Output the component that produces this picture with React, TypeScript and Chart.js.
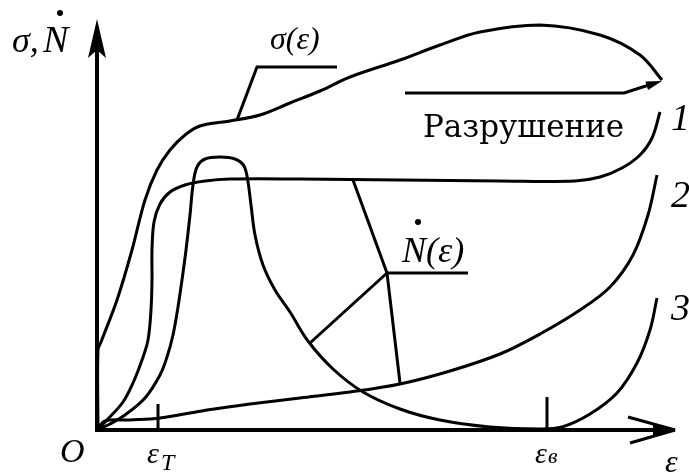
import React, { useEffect, useRef } from "react";
import { Chart, registerables } from "chart.js";

Chart.register(...registerables);

// Strain (ε) and stress σ(ε), arbitrary units from the origin O
const sigmaStrain = [1, 1, 4, 20, 35, 48, 60, 73, 88, 103, 133, 163, 193, 223, 253, 303, 343, 383, 443, 503, 543, 565];
const sigmaStress = [0, 80, 88, 130, 180, 230, 260, 280, 295, 304, 309, 315, 327, 339, 353, 370, 385, 398, 405, 395, 375, 350];

// Rate Ṅ(ε), case 1
const n1Strain = [0, 10, 26, 36, 45, 51, 54, 55, 55, 57, 63, 73, 88, 108, 133, 203, 303, 403, 478, 503, 525, 543, 555, 563];
const n1Rate = [0, 10, 28, 47, 70, 90, 120, 150, 180, 208, 226, 238, 245, 249, 251, 251, 250, 249, 249, 253, 262, 275, 292, 318];

// Rate Ṅ(ε), case 2
const n2Strain = [0, 8, 33, 63, 110, 153, 203, 253, 303, 353, 403, 443, 483, 513, 536, 551, 560];
const n2Rate = [0, 9, 10, 12, 20, 26, 32, 38, 46, 59, 76, 96, 120, 143, 175, 215, 255];

// Rate Ṅ(ε), case 3
const n3Strain = [0, 13, 28, 48, 63, 70, 76, 81, 85, 89, 93, 96, 100, 108, 123, 138, 147, 151, 154, 158, 166, 178, 193, 211, 236, 266, 303, 343, 393, 443, 465, 493, 520, 540, 553, 560];
const n3Rate = [0, 6, 15, 32, 55, 73, 95, 123, 150, 180, 215, 245, 263, 271, 273, 271, 264, 248, 225, 195, 165, 140, 118, 89, 61, 38, 21, 10, 3, 1, 3, 16, 37, 67, 100, 132];

// Marked strains on the ε axis
const epsYield = 61;
const epsUltimate = 450;

const STRAIN_MAX = 576;
const VALUE_MAX = 405;

const toPoints = (xs: number[], ys: number[]) => xs.map((x, i) => ({ x, y: ys[i] }));

const curve = (label: string, data: { x: number; y: number }[]) => ({
  label,
  data,
  borderColor: "#000",
  borderWidth: 3,
  pointRadius: 0,
  tension: 0.35,
  fill: false,
  clip: false as any,
});

const decorations = {
  id: "decorations",
  afterDatasetsDraw(chart: any) {
    const ctx: CanvasRenderingContext2D = chart.ctx;
    const xs = chart.scales.x;
    const ys = chart.scales.y;
    const X = (v: number) => xs.getPixelForValue(v);
    const Y = (v: number) => ys.getPixelForValue(v);
    const line = (pts: number[][], w = 3) => {
      ctx.beginPath();
      ctx.lineWidth = w;
      pts.forEach(([a, b], i) => (i ? ctx.lineTo(X(a), Y(b)) : ctx.moveTo(X(a), Y(b))));
      ctx.stroke();
    };
    const poly = (pts: number[][]) => {
      ctx.beginPath();
      pts.forEach(([a, b], i) => (i ? ctx.lineTo(X(a), Y(b)) : ctx.moveTo(X(a), Y(b))));
      ctx.closePath();
      ctx.fill();
    };
    const text = (s: string, a: number, b: number, size: number, italic = true, family = '"Liberation Serif"') => {
      ctx.font = `${italic ? "italic " : "normal "}${size}px ${family}`;
      ctx.fillText(s, X(a), Y(b));
    };
    const dot = (a: number, b: number, r = 3) => {
      ctx.beginPath();
      ctx.arc(X(a), Y(b), r, 0, Math.PI * 2);
      ctx.fill();
    };

    ctx.save();
    ctx.strokeStyle = "#000";
    ctx.fillStyle = "#000";
    ctx.lineCap = "butt";
    ctx.lineJoin = "miter";

    // axes
    line([[0, -2], [0, 390]], 4);
    poly([[0, 411], [-9, 372], [0, 380], [9, 372]]);
    line([[-2, 0], [572, 0]], 4);
    line([[531, 13], [578, 0]], 3);
    line([[533, -13], [578, 0]], 3);
    poly([[579, 0], [556, 6], [556, -6]]);

    // strain marks
    line([[epsYield, 0], [epsYield, 26]], 3);
    line([[epsUltimate, 0], [epsUltimate, 33]], 3);

    // σ(ε) leader
    line([[240, 363], [160, 363], [140, 310]], 3);
    // Ṅ(ε) leaders
    line([[371, 157], [290, 157]], 3);
    line([[256, 250], [290, 157], [303, 47]], 3);
    line([[290, 157], [213, 87]], 3);

    // fracture arrow
    line([[308, 337], [527, 337], [552, 345]], 3);
    {
      const tx = X(565), ty = Y(349);
      const fx = X(527), fy = Y(337);
      const ang = Math.atan2(ty - fy, tx - fx);
      const L = 16, H = 4.5;
      ctx.beginPath();
      ctx.moveTo(tx, ty);
      ctx.lineTo(tx - L * Math.cos(ang) + H * Math.sin(ang), ty - L * Math.sin(ang) - H * Math.cos(ang));
      ctx.lineTo(tx - L * Math.cos(ang) - H * Math.sin(ang), ty - L * Math.sin(ang) + H * Math.cos(ang));
      ctx.closePath();
      ctx.fill();
    }

    // labels
    ctx.textBaseline = "alphabetic";
    ctx.textAlign = "left";
    text("σ,", -85, 378, 36);
    text("N", -54, 378, 38);
    dot(-37, 417);
    text("σ(ε)", 173, 381, 32);
    text("Разрушение", 326, 293, 31, false, '"DejaVu Serif"');
    text("1", 574, 300, 38);
    text("2", 574, 223, 38);
    text("3", 574, 110, 38);
    text("N(ε)", 305, 168, 36);
    dot(321, 208);
    text("O", -37, -32, 34);
    text("ε", 50, -33, 30);
    text("T", 64, -40, 24);
    text("ε", 438, -33, 30);
    text("в", 451, -33, 22);
    text("ε", 568, -42, 32);
    ctx.restore();
  },
};

export default function App() {
  const ref = useRef<HTMLCanvasElement | null>(null);

  useEffect(() => {
    document.body.style.margin = "0";
    const canvas = ref.current;
    if (!canvas) return;
    const chart = new Chart(canvas, {
      type: "line",
      data: {
        datasets: [
          curve("σ(ε)", toPoints(sigmaStrain, sigmaStress)),
          curve("Ṅ(ε) 1", toPoints(n1Strain, n1Rate)),
          curve("Ṅ(ε) 2", toPoints(n2Strain, n2Rate)),
          curve("Ṅ(ε) 3", toPoints(n3Strain, n3Rate)),
        ],
      },
      options: {
        responsive: false,
        animation: false,
        devicePixelRatio: 1,
        layout: { padding: { left: 97, right: 16, top: 25, bottom: 43 } },
        plugins: { legend: { display: false }, tooltip: { enabled: false } },
        scales: {
          x: { type: "linear", min: 0, max: STRAIN_MAX, display: false },
          y: { type: "linear", min: 0, max: VALUE_MAX, display: false },
        },
      },
      plugins: [decorations],
    });
    return () => chart.destroy();
  }, []);

  return (
    <div style={{ width: 689, height: 473, background: "#fff" }}>
      <canvas ref={ref} width={689} height={473} style={{ display: "block" }} />
    </div>
  );
}
